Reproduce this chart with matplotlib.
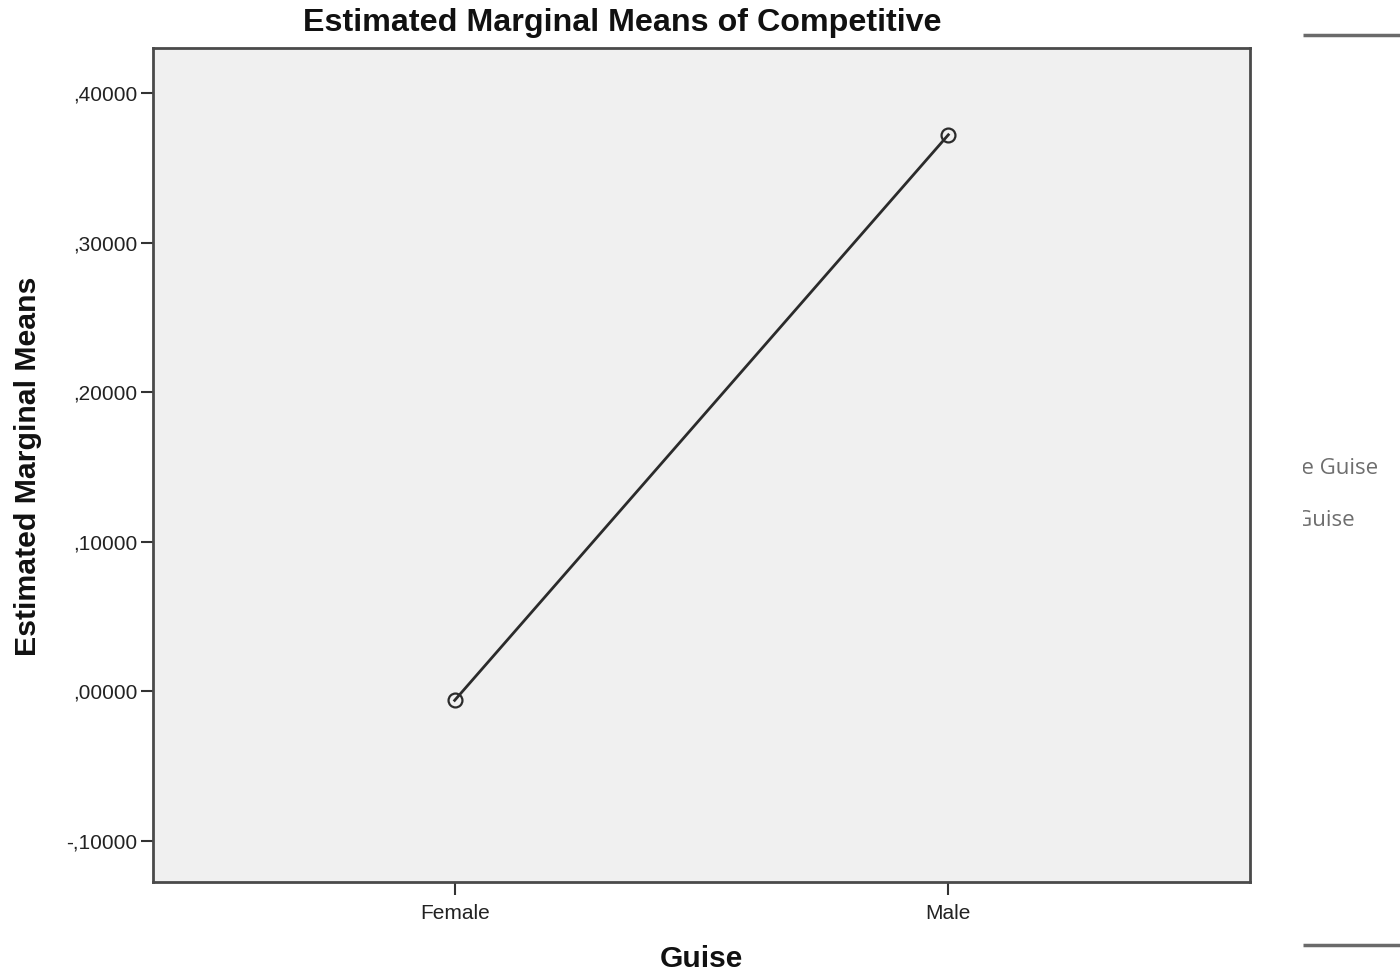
import matplotlib
matplotlib.use('Agg')
import matplotlib.pyplot as plt
from matplotlib.ticker import FuncFormatter

# data
guise = ['Female', 'Male']
means = [-0.006, 0.372]
yticks = [-0.1, 0.0, 0.1, 0.2, 0.3, 0.4]
legend_bits = ['Female Guise', 'Male Guise']

plt.rcParams['font.family'] = ['Liberation Sans', 'DejaVu Sans']

W, H = 1400, 974
fig = plt.figure(figsize=(W / 100, H / 100), dpi=100)

# main axes (pixel box 153..1250 x 48..882)
ax = fig.add_axes([153 / W, 1 - 882 / H, (1250 - 153) / W, (882 - 48) / H])
ax.set_facecolor('#f0f0f0')

x = list(range(len(guise)))
ax.plot(x, means, color='#2b2b2b', lw=2, marker='o', ms=10,
        mfc='none', mec='#2b2b2b', mew=1.6)

ax.set_xlim(-0.611, 1.611)
ax.set_ylim(-0.1274, 0.430)
ax.set_xticks(x)
ax.set_xticklabels(guise)
ax.set_yticks(yticks)


def spss_fmt(v, pos):
    s = '%.5f' % v
    s = s.replace('0.', '.', 1) if abs(v) < 1 else s
    if s.startswith('-0.'):
        s = '-' + s[2:]
    return s.replace('.', ',')


ax.yaxis.set_major_formatter(FuncFormatter(spss_fmt))
ax.tick_params(axis='both', direction='out', length=9, width=1.5,
               color='#333333', labelsize=15, labelcolor='#222222')
ax.tick_params(axis='y', pad=2)
ax.tick_params(axis='x', pad=7)
for sp in ax.spines.values():
    sp.set_color('#4a4a4a')
    sp.set_linewidth(2)

fig.text(622 / W, 1 - 23 / H, 'Estimated Marginal Means of Competitive',
         ha='center', va='center', fontsize=23.2, fontweight='bold', color='#111111')
fig.text(701 / W, 1 - 959 / H, 'Guise', ha='center', va='center',
         fontsize=21.5, fontweight='bold', color='#111111')
fig.text(28 / W, 1 - 466 / H, 'Estimated Marginal Means', ha='center', va='center',
         rotation=90, fontsize=21.8, fontweight='bold', color='#111111')

# cut-off legend panel at the right edge
lx = fig.add_axes([1303 / W, 0, (W - 1303) / W, 1])
lx.set_xlim(1303, W)
lx.set_ylim(H, 0)
lx.axis('off')
lx.plot([1303, W], [35, 35], color='#6a6a6a', lw=2.5, solid_capstyle='butt')
lx.plot([1303, W], [945, 945], color='#6a6a6a', lw=2.5, solid_capstyle='butt')
lx.text(1378, 468, legend_bits[0], ha='right', va='center', fontsize=16,
        family='Open Sans', color='#6e6e6e', clip_on=True)
lx.text(1355, 520, legend_bits[1], ha='right', va='center', fontsize=16,
        family='Open Sans', color='#6e6e6e', clip_on=True)

fig.savefig('out.png', dpi=100)
